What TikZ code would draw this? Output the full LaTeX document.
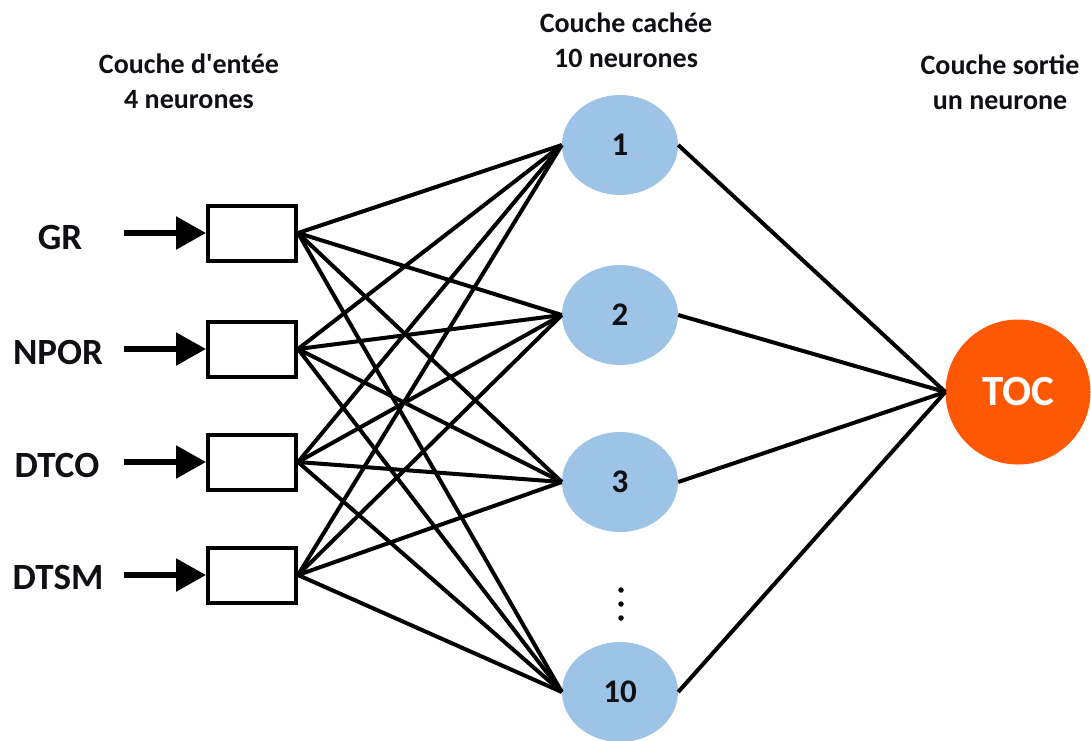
\documentclass[tikz,border=0pt]{standalone}
\usepackage{fontspec}
\setmainfont{Carlito}
\usetikzlibrary{shapes.geometric,arrows.meta}
\definecolor{hidblue}{RGB}{157,195,230}
\definecolor{tocorange}{RGB}{255,88,5}
\definecolor{txt}{RGB}{15,15,20}
\begin{document}
\begin{tikzpicture}[x=1pt,y=-1pt,
  title/.style={font=\fontsize{28}{35}\selectfont\bfseries, text=txt, align=center},
  inlabel/.style={font=\fontsize{37}{40}\selectfont\bfseries, text=txt},
  inbox/.style={draw=black, line width=4pt, minimum width=88pt, minimum height=55pt, inner sep=0pt},
  hid/.style={ellipse, fill=hidblue, minimum width=116pt, minimum height=100pt, inner sep=0pt, font=\fontsize{33}{36}\selectfont\bfseries, text=txt},
  outn/.style={circle, fill=tocorange, minimum size=145pt, inner sep=0pt, text=white, font=\fontsize{43}{46}\selectfont\bfseries},
  conn/.style={line width=4pt, black},
  inarrow/.style={line width=5.5pt, -{Triangle[length=30pt,width=32pt]}},
  dot/.style={circle, fill=black, minimum size=5.5pt, inner sep=0pt}
]
\useasboundingbox (0,0) rectangle (1091,740);
% titles
\node[title] (t1) at (189,81) {Couche d\textquotesingle entée\\4 neurones};
\node[title] (t2) at (626,40) {Couche cachée\\10 neurones};
\node[title] (t3) at (1000,82) {Couche sortie\\un neurone};
% input boxes
\node[inbox] (b1) at (252,233) {};
\node[inbox] (b2) at (252,349) {};
\node[inbox] (b3) at (252,462) {};
\node[inbox] (b4) at (252,575) {};
% input labels
\node[inlabel] (l1) at (60,237) {GR};
\node[inlabel] (l2) at (58,352) {NPOR};
\node[inlabel] (l3) at (57,465) {DTCO};
\node[inlabel] (l4) at (58,577) {DTSM};
\coordinate (a1) at (124,233);
\coordinate (a2) at (124,349);
\coordinate (a3) at (124,462);
\coordinate (a4) at (124,575);
\foreach \i in {1,2,3,4}{\draw[inarrow] (a\i) -- (b\i.west);}
% hidden nodes
\node[hid] (h1) at (620,145) {1};
\node[hid] (h2) at (620,315) {2};
\node[hid] (h3) at (620,482) {3};
\node[hid] (h10) at (620,692) {10};
\node[dot] (d1) at (621,590) {};
\node[dot] (d2) at (621,604) {};
\node[dot] (d3) at (621,618) {};
% output
\node[outn] (toc) at (1018,392) {TOC};
% connections
\foreach \i in {1,2,3,4}{
  \foreach \h in {h1,h2,h3,h10}{
    \draw[conn] (b\i.east) -- (\h.west);
  }
}
\foreach \h in {h1,h2,h3,h10}{
  \draw[conn] (\h.east) -- (toc.west);
}
\end{tikzpicture}
\end{document}
